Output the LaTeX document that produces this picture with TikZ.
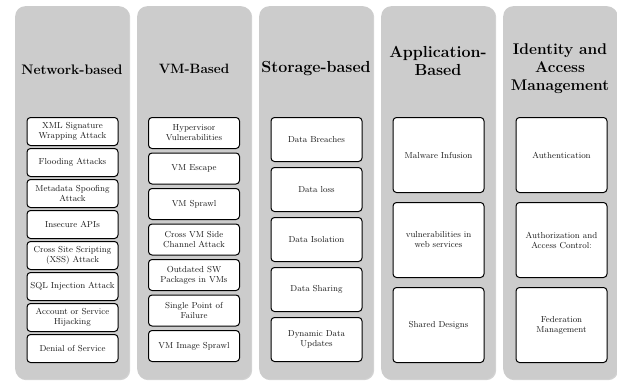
\documentclass[tikz,border=0pt]{standalone}
\usetikzlibrary{shadows}
\definecolor{panelgray}{RGB}{204,204,204}
\definecolor{txt}{RGB}{25,25,25}
\tikzset{
  panel/.style={fill=panelgray, draw=none, rounded corners=10pt, anchor=north west,
    minimum width=114pt, minimum height=373pt, inner sep=0pt,
    drop shadow={shadow xshift=1pt, shadow yshift=-1pt, opacity=0.35, fill=gray}},
  title/.style={align=center, text=black, inner sep=0pt},
  item/.style={fill=white, draw=black, line width=1pt, rounded corners=3.5pt, anchor=north,
    minimum width=91pt, inner sep=0pt, align=center, text=txt,
    font=\fontsize{8.7}{10}\selectfont}
}
\begin{document}
\begin{tikzpicture}[x=1pt,y=-1pt]
\useasboundingbox (0,0) rectangle (617,380);
% panels
\foreach \i in {1,...,5}{
  \node[panel] (p\i) at ({15+122*(\i-1)},6) {};
}
% titles
\node[title, font=\fontsize{13.8}{18}\selectfont\bfseries] (t1) at (72,70) {Network-based};
\node[title, font=\fontsize{13.5}{18}\selectfont\bfseries] (t2) at (194,69) {VM-Based};
\node[title, font=\fontsize{16}{18}\selectfont\bfseries] (t3) at (316,69) {Storage-based};
\node[title, font=\fontsize{16}{18}\selectfont\bfseries] (t4) at (438,61) {Application-\\Based};
\node[title, font=\fontsize{15.5}{18}\selectfont\bfseries] (t5) at (560,69) {Identity and\\Access\\Management};
% column 1
\foreach \t [count=\k from 0] in {{XML Signature\\Wrapping Attack},{Flooding Attacks},{Metadata Spoofing\\Attack},{Insecure APIs},{Cross Site Scripting\\(XSS) Attack},{SQL Injection Attack},{Account or Service\\Hijacking},{Denial of Service}}{
  \node[item, minimum height=28pt] (a\k) at (72.5,{117+31*\k}) {\t};
}
% column 2
\foreach \t [count=\k from 0] in {{Hypervisor\\Vulnerabilities},{VM Escape},{VM Sprawl},{Cross VM Side\\Channel Attack},{Outdated SW\\Packages in VMs},{Single Point of\\Failure},{VM Image Sprawl}}{
  \node[item, minimum height=31pt] (b\k) at (194,{117+35.5*\k}) {\t};
}
% column 3
\foreach \t [count=\k from 0] in {{Data Breaches},{Data loss},{Data Isolation},{Data Sharing},{Dynamic Data\\Updates}}{
  \node[item, minimum height=44pt] (c\k) at (316.5,{117+50*\k}) {\t};
}
% column 4
\foreach \t [count=\k from 0] in {{Malware Infusion},{vulnerabilities in\\web services},{Shared Designs}}{
  \node[item, minimum height=75pt] (d\k) at (438.5,{117+85*\k}) {\t};
}
% column 5
\foreach \t [count=\k from 0] in {{Authentication},{Authorization and\\Access Control:},{Federation\\Management}}{
  \node[item, minimum height=75pt] (e\k) at (561.5,{117+85*\k}) {\t};
}
\end{tikzpicture}
\end{document}
